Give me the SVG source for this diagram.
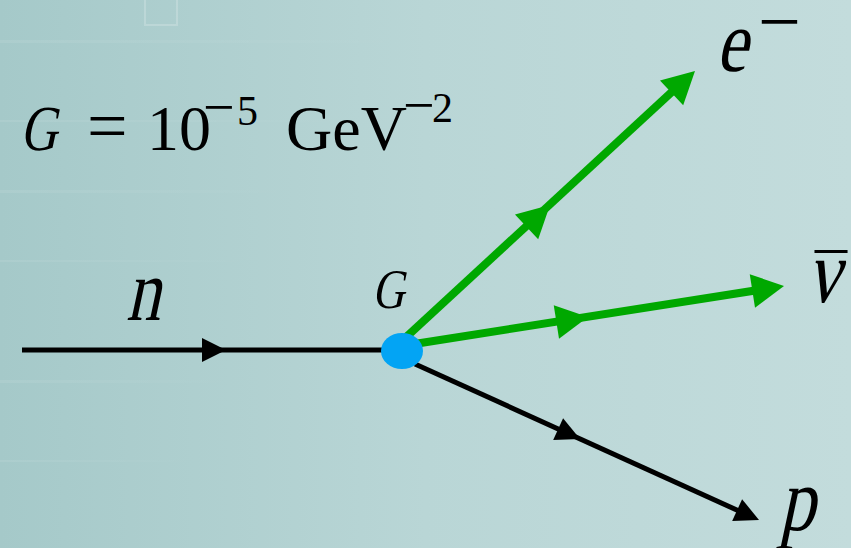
<svg xmlns="http://www.w3.org/2000/svg" width="851" height="548" viewBox="0 0 851 548">
  <style>
    .t { font-family: "Liberation Serif", "Times New Roman", serif; fill: #000; }
    .lk { stroke: #000; stroke-width: 5; fill: none; }
    .lg { stroke: #00a800; stroke-width: 8; fill: none; }
  </style>
  <defs>
    <linearGradient id="bg" x1="0" y1="0" x2="1" y2="0">
      <stop offset="0" stop-color="#a5c9c9"/>
      <stop offset="0.5" stop-color="#b9d6d6"/>
      <stop offset="1" stop-color="#c3dcdc"/>
    </linearGradient>
    <linearGradient id="streak" x1="0" y1="0" x2="1" y2="0">
      <stop offset="0" stop-color="#ffffff" stop-opacity="0.08"/>
      <stop offset="1" stop-color="#ffffff" stop-opacity="0"/>
    </linearGradient>
    <path id="ahG" d="M0,0 L-32,-17 L-32,17 Z" fill="#00a800"/>
    <path id="ahK" d="M0,0 L-24,-12 L-24,12 Z" fill="#000"/>
  </defs>

  <g id="background">
    <rect x="0" y="0" width="851" height="548" fill="url(#bg)"/>
    <rect x="0" y="40" width="420" height="3" fill="url(#streak)"/>
    <rect x="0" y="120" width="360" height="2" fill="url(#streak)"/>
    <rect x="0" y="190" width="300" height="3" fill="url(#streak)"/>
    <rect x="0" y="260" width="260" height="2" fill="url(#streak)"/>
    <rect x="0" y="380" width="240" height="3" fill="url(#streak)"/>
    <rect x="0" y="460" width="200" height="2" fill="url(#streak)"/>
    <rect x="145" y="-4" width="32" height="29" fill="none" stroke="#ffffff" stroke-opacity="0.2" stroke-width="2"/>
  </g>

  <g id="formula">
    <text class="t" transform="translate(20,150) skewX(-12) scale(0.8,1)" font-size="64">G</text>
    <text class="t" x="87" y="150" font-size="72">=</text>
    <text class="t" x="147" y="150" font-size="64">10</text>
    <text class="t" x="203" y="126" font-size="56">−<tspan x="237" y="125" font-size="42">5</tspan></text>
    <text class="t" x="286" y="150" font-size="64">GeV</text>
    <text class="t" x="403" y="124" font-size="56">−<tspan x="432" y="122" font-size="42">2</tspan></text>
  </g>

  <g id="connectors">
    <line class="lk" x1="22" y1="350" x2="402" y2="350"/>
    <use href="#ahK" transform="translate(226,350)"/>
    <line class="lg" x1="403" y1="340" x2="688" y2="77"/>
    <use href="#ahG" transform="translate(550,205) rotate(-43)"/>
    <use href="#ahG" transform="translate(695,71) rotate(-43)"/>
    <line class="lg" x1="408" y1="345" x2="775" y2="287.4"/>
    <use href="#ahG" transform="translate(588,317) rotate(-8.9)"/>
    <use href="#ahG" transform="translate(784,286) rotate(-8.9)"/>
    <line class="lk" x1="415" y1="364" x2="750" y2="516"/>
    <use href="#ahK" transform="translate(580,439) rotate(24.4)"/>
    <use href="#ahK" transform="translate(759,520) rotate(24.4)"/>
  </g>

  <g id="vertex">
    <ellipse cx="402" cy="351" rx="21" ry="18" fill="#03a4f4"/>
    <text class="t" transform="translate(372,308) skewX(-12) scale(0.8,1)" font-size="56">G</text>
  </g>

  <g id="neutron">
    <text class="t" transform="translate(126,320) skewX(-12) scale(0.78,1)" font-size="88">n</text>
  </g>

  <g id="electron">
    <text class="t" transform="translate(716,71) skewX(-12) scale(0.8,1)" font-size="88">e</text>
    <text class="t" x="758" y="47" font-size="76">−</text>
  </g>

  <g id="antineutrino">
    <text class="t" transform="translate(807,302) skewX(-12) scale(0.8,1)" font-size="90">ν</text>
    <text class="t" x="815" y="298" font-size="64">¯</text>
  </g>

  <g id="proton">
    <text class="t" transform="translate(779,530) skewX(-12) scale(0.8,1)" font-size="90">p</text>
  </g>
</svg>
